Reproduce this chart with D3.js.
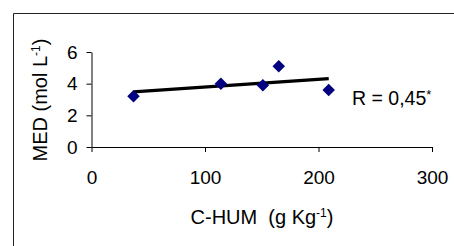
<!DOCTYPE html>
<html>
<head>
<meta charset="utf-8">
<script src="https://cdn.jsdelivr.net/npm/d3@7"></script>
<style>
  body { margin: 0; background: #fff; }
  text { font-family: "Liberation Sans", Arial, sans-serif; fill: #000; }
</style>
</head>
<body>
<div id="viz"></div>
<script>
// values
var chum = [37, 114, 151, 165, 209];
var med = [3.2, 4.0, 3.9, 5.1, 3.6];
var xTicks = [0, 100, 200, 300];
var yTicks = [0, 2, 4, 6];
var rLabel = "R = 0,45";

var width = 454,
    height = 246,
    mLeft = 91.5,
    mRight = 432,
    mTop = 52,
    mBottom = 147;

var x = d3.scaleLinear().domain([0, 300]).range([mLeft, mRight]);
var y = d3.scaleLinear().domain([0, 6]).range([mBottom, mTop]);

var svg = d3.select("#viz").append("svg")
  .attr("width", width)
  .attr("height", height);

// chart area frame (only top + left edges show)
svg.append("path")
  .attr("d", "M13.5,246V13.5H454")
  .attr("fill", "none")
  .attr("stroke", "#222")
  .attr("stroke-width", 1);

var xAxis = svg.append("g")
  .attr("transform", "translate(0," + mBottom + ")")
  .call(d3.axisBottom(x).tickValues(xTicks).tickFormat(d3.format("d"))
    .tickSize(5).tickSizeOuter(0).tickPadding(19));

var yAxis = svg.append("g")
  .attr("transform", "translate(" + mLeft + ",0)")
  .call(d3.axisLeft(y).tickValues(yTicks).tickFormat(d3.format("d"))
    .tickSize(5).tickSizeOuter(0).tickPadding(9));

[xAxis, yAxis].forEach(function(g) {
  g.selectAll("text").attr("font-size", 19).attr("font-family", null);
  g.selectAll("path, line").attr("stroke", "#000");
});

// least squares trend line
var mx = d3.mean(chum),
    my = d3.mean(med);
var sxy = d3.sum(chum, function(v, i) { return (v - mx) * (med[i] - my); }),
    sxx = d3.sum(chum, function(v) { return (v - mx) * (v - mx); });
var slope = sxy / sxx,
    icpt = my - slope * mx;
var ext = d3.extent(chum);

svg.append("line")
  .attr("x1", x(ext[0])).attr("y1", y(icpt + slope * ext[0]))
  .attr("x2", x(ext[1])).attr("y2", y(icpt + slope * ext[1]))
  .attr("stroke", "#000")
  .attr("stroke-width", 3.2);

// diamonds
var diamond = d3.symbol().type(d3.symbolSquare).size(78);
svg.selectAll(".pt")
  .data(chum)
  .enter()
  .append("path")
    .attr("class", "pt")
    .attr("d", diamond)
    .attr("fill", "#000080")
    .attr("transform", function(d, i) {
      return "translate(" + x(d) + "," + y(med[i]) + ") rotate(45)";
    });

// R label
var rt = svg.append("text")
  .attr("x", 352)
  .attr("y", 105)
  .attr("font-size", 19.5)
  .text(rLabel);
rt.append("tspan").attr("dy", -6).attr("font-size", 13).text("*");

// axis titles
var xt = svg.append("text")
  .attr("x", 262)
  .attr("y", 224)
  .attr("text-anchor", "middle")
  .attr("font-size", 20)
  .attr("xml:space", "preserve")
  .text("C-HUM  (g Kg");
xt.append("tspan").attr("dy", -7).attr("font-size", 12).text("-1");
xt.append("tspan").attr("dy", 7).text(")");

var yt = svg.append("text")
  .attr("transform", "translate(47,100) rotate(-90)")
  .attr("text-anchor", "middle")
  .attr("font-size", 20)
  .text("MED (mol L");
yt.append("tspan").attr("dy", -7).attr("font-size", 12).text("-1");
yt.append("tspan").attr("dy", 7).text(")");
</script>
</body>
</html>
